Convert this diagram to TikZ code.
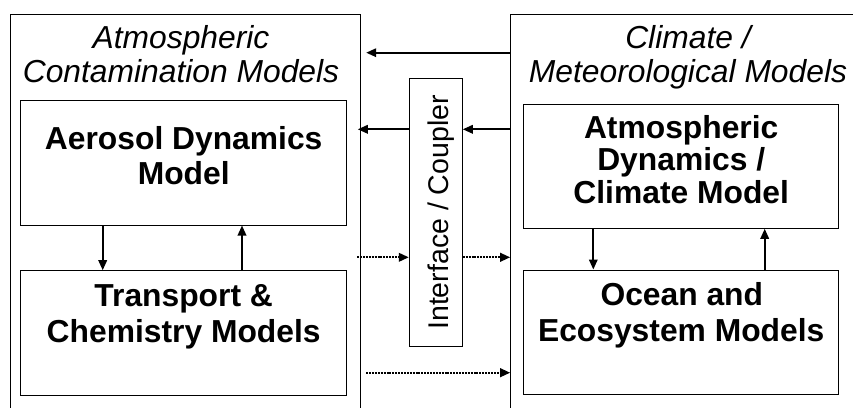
\documentclass[tikz,border=0pt]{standalone}
\usepackage{fontspec}
\setmainfont{Liberation Sans}
\usetikzlibrary{arrows.meta,calc}
\begin{document}
\begin{tikzpicture}[x=1pt,y=-1pt,
 box/.style={draw,line width=1pt,rectangle,inner sep=0pt},
 ttl/.style={font=\fontsize{31.8}{36}\selectfont\itshape,anchor=base,inner sep=0pt},
 lbl/.style={font=\fontsize{31.8}{36}\selectfont\bfseries,anchor=base,inner sep=0pt},
 arr/.style={line width=1.8pt,-{Triangle[length=10pt,width=8.5pt]}},
 darr/.style={arr,line width=2.2pt,dash pattern=on 2pt off 0.9pt}]
\useasboundingbox (0,0) rectangle (853,407);
\clip (0,0) rectangle (853,407);
% outer boxes
\node[box,minimum width=350.2pt,minimum height=426pt] (outerL) at (185.6,227) {};
\node[box,minimum width=359.3pt,minimum height=426pt] (outerR) at (690.35,227) {};
% inner boxes
\node[box,minimum width=326pt,minimum height=125pt] (aero) at (183.7,162.5) {};
\node[box,minimum width=326pt,minimum height=124.3pt] (trans) at (183.7,332.85) {};
\node[box,minimum width=315pt,minimum height=124.3pt] (atmo) at (681.2,166.15) {};
\node[box,minimum width=315pt,minimum height=124.3pt] (ocean) at (681.2,332.15) {};
\node[box,minimum width=53pt,minimum height=268.4pt] (iface) at (435.8,212.5) {};
% texts
\node[ttl] (tl1) at (181,48.3) {Atmospheric};
\node[ttl] (tl2) at (181,82) {Contamination Models};
\node[ttl] (tr1) at (688,48.3) {Climate /};
\node[ttl] (tr2) at (688,82) {Meteorological Models};
\node[lbl] (a1) at (183.7,149) {Aerosol Dynamics};
\node[lbl] (a2) at (183.7,184.3) {Model};
\node[lbl] (b1) at (183.7,306) {Transport \&};
\node[lbl] (b2) at (183.7,342.7) {Chemistry Models};
\node[lbl] (c1) at (681.2,138.5) {Atmospheric};
\node[lbl] (c2) at (681.2,170.7) {Dynamics /};
\node[lbl] (c3) at (681.2,203.3) {Climate Model};
\node[lbl] (d1) at (681.8,305) {Ocean and};
\node[lbl] (d2) at (681.2,341.7) {Ecosystem Models};
\node[font=\fontsize{28.5}{32}\selectfont,anchor=base,inner sep=0pt,rotate=90] (it) at (448.3,212.5) {Interface / Coupler};
% level coordinates
\coordinate (y1) at (0,52.7);
\coordinate (y2) at (0,129.3);
\coordinate (y3) at (0,257.3);
\coordinate (y4) at (0,372.7);
\coordinate (xl1) at (102.7,0);
\coordinate (xl2) at (242,0);
\coordinate (xr1) at (593.3,0);
\coordinate (xr2) at (764.7,0);
% solid arrows
\draw[arr,shorten >=5pt] (outerR.west |- y1) -- (outerL.east |- y1);
\draw[arr,shorten >=10.6pt] (iface.west |- y2) -- (aero.east |- y2);
\draw[arr] (outerR.west |- y2) -- (iface.east |- y2);
\draw[arr] (aero.south -| xl1) -- (trans.north -| xl1);
\draw[arr] (trans.north -| xl2) -- (aero.south -| xl2);
\draw[arr] (atmo.south -| xr1) -- (ocean.north -| xr1);
\draw[arr] (ocean.north -| xr2) -- (atmo.south -| xr2);
% dotted arrows
\draw[darr,shorten <=10pt] (aero.east |- y3) -- (iface.west |- y3);
\draw[darr] (iface.east |- y3) -- (outerR.west |- y3);
\draw[darr,shorten <=5pt] (outerL.east |- y4) -- (outerR.west |- y4);
\end{tikzpicture}
\end{document}
